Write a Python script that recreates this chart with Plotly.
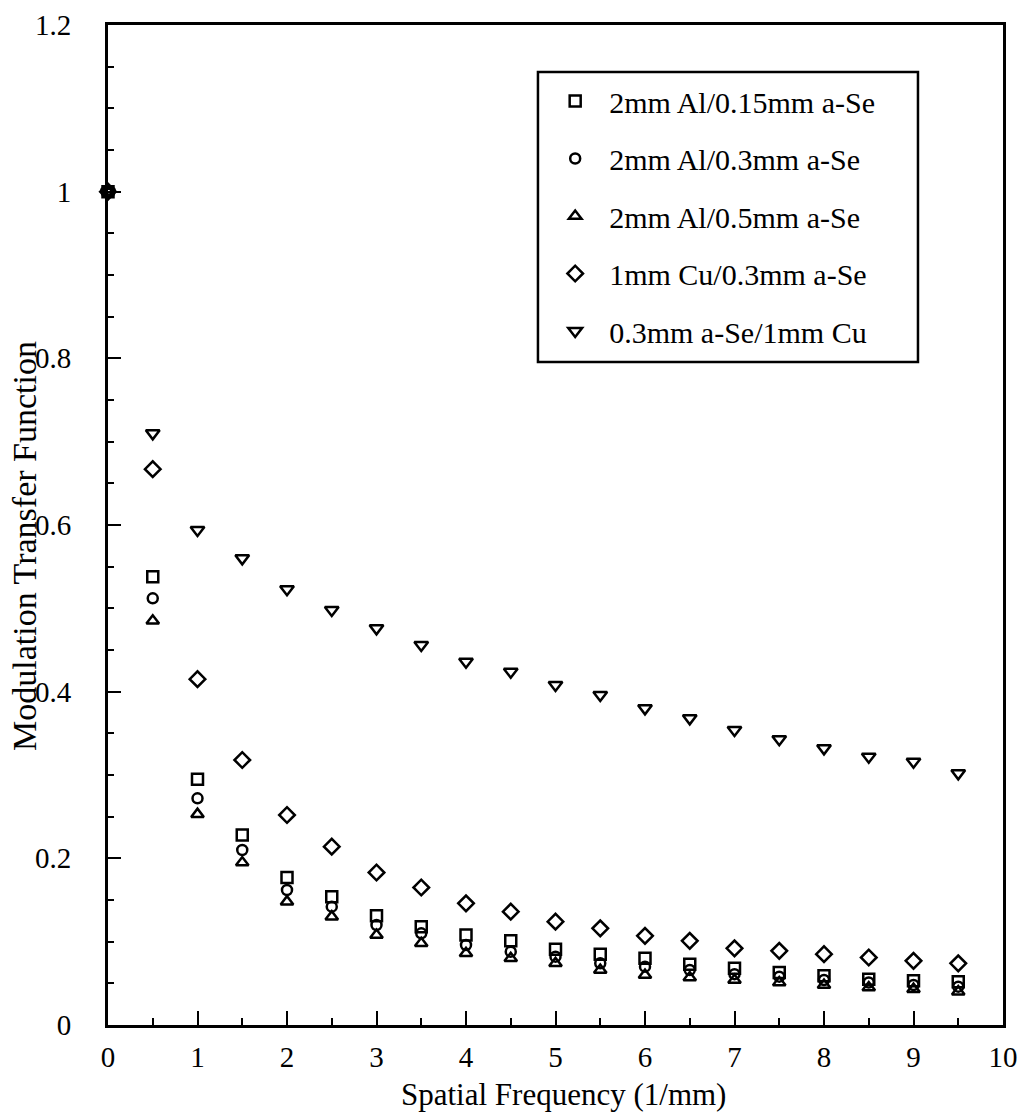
import plotly.graph_objects as go

freq = [0, 0.5, 1, 1.5, 2, 2.5, 3, 3.5, 4, 4.5, 5, 5.5, 6, 6.5, 7, 7.5, 8, 8.5, 9, 9.5]

al_015 = [1.0, 0.538, 0.295, 0.228, 0.177, 0.154, 0.131, 0.118, 0.108, 0.101, 0.091,
          0.085, 0.080, 0.073, 0.068, 0.063, 0.059, 0.055, 0.053, 0.052]
al_03 = [1.0, 0.512, 0.272, 0.210, 0.162, 0.142, 0.120, 0.110, 0.096, 0.088, 0.082,
         0.074, 0.070, 0.066, 0.061, 0.058, 0.054, 0.051, 0.048, 0.046]
al_05 = [1.0, 0.485, 0.253, 0.195, 0.148, 0.130, 0.108, 0.098, 0.086, 0.080, 0.074,
         0.066, 0.060, 0.057, 0.054, 0.051, 0.048, 0.045, 0.043, 0.040]
cu_03 = [1.0, 0.667, 0.415, 0.318, 0.252, 0.214, 0.183, 0.165, 0.146, 0.136, 0.124,
         0.116, 0.107, 0.101, 0.092, 0.089, 0.085, 0.081, 0.077, 0.074]
se_cu = [1.0, 0.710, 0.594, 0.560, 0.523, 0.498, 0.476, 0.456, 0.436, 0.424, 0.408,
         0.396, 0.380, 0.368, 0.354, 0.343, 0.332, 0.322, 0.316, 0.302]

names = ["2mm Al/0.15mm a-Se", "2mm Al/0.3mm a-Se", "2mm Al/0.5mm a-Se",
         "1mm Cu/0.3mm a-Se", "0.3mm a-Se/1mm Cu"]
series = [al_015, al_03, al_05, cu_03, se_cu]
symbols = ["square-open", "circle-open", "triangle-up-open", "diamond-open", "triangle-down-open"]
sizes = [11, 10, 11, 12, 12]

x_title = "Spatial Frequency (1/mm)"
y_title = "Modulation Transfer Function"

FONT = "Liberation Serif"

fig = go.Figure()
for i, (nm, ys, sym, sz) in enumerate(zip(names, series, symbols, sizes)):
    fig.add_trace(go.Scatter(
        x=freq, y=ys, mode="markers", name=nm, legendgroup=f"g{i}",
        marker=dict(symbol=sym, size=sz, color="black", line=dict(color="black", width=2.5)),
        cliponaxis=False,
    ))

fig.update_layout(
    width=1026, height=1116,
    margin=dict(l=108, r=23, t=25, b=91, autoexpand=False),
    paper_bgcolor="white", plot_bgcolor="white",
    font=dict(family=FONT, color="black", size=26),
    showlegend=True,
    legend=dict(
        x=0.484, y=0.950, xanchor="left", yanchor="top",
        borderwidth=0, bgcolor="rgba(0,0,0,0)",
        font=dict(family=FONT, size=30, color="black"),
        traceorder="grouped", tracegroupgap=15.5,
        itemsizing="trace", itemwidth=58,
    ),
    shapes=[
        dict(type="rect", xref="paper", yref="paper",
             x0=0.4804, x1=0.905, y0=0.663, y1=0.953,
             line=dict(color="black", width=2.5), fillcolor="rgba(0,0,0,0)"),
    ],
    xaxis=dict(
        range=[0, 10], dtick=1, tick0=0, automargin=False,
        showgrid=False, zeroline=False,
        showline=True, linecolor="black", linewidth=3, mirror=True,
        ticks="inside", ticklen=14, tickwidth=2, tickcolor="black",
        minor=dict(dtick=0.5, ticks="inside", ticklen=7, tickwidth=2, tickcolor="black"),
        tickfont=dict(family=FONT, size=29),
        ticklabelstandoff=4,
    ),
    yaxis=dict(
        range=[0, 1.2], dtick=0.2, tick0=0, automargin=False,
        showgrid=False, zeroline=False,
        showline=True, linecolor="black", linewidth=3, mirror=True,
        ticks="inside", ticklen=13, tickwidth=2, tickcolor="black",
        minor=dict(dtick=0.05, ticks="inside", ticklen=6, tickwidth=2, tickcolor="black"),
        tickfont=dict(family=FONT, size=29),
        ticklabelstandoff=28,
    ),
    annotations=[
        dict(text=x_title, xref="paper", yref="paper", x=0.509, y=-0.069,
             xanchor="center", yanchor="middle", showarrow=False,
             font=dict(family=FONT, size=31)),
        dict(text=y_title, xref="paper", yref="paper", x=-0.0939, y=0.479,
             xanchor="center", yanchor="middle", showarrow=False, textangle=-90,
             font=dict(family=FONT, size=34)),
    ],
)

fig.write_html(
    "out.html",
    config={"displayModeBar": False},
    post_script="document.body.style.margin='0';document.body.style.overflow='hidden';",
)
